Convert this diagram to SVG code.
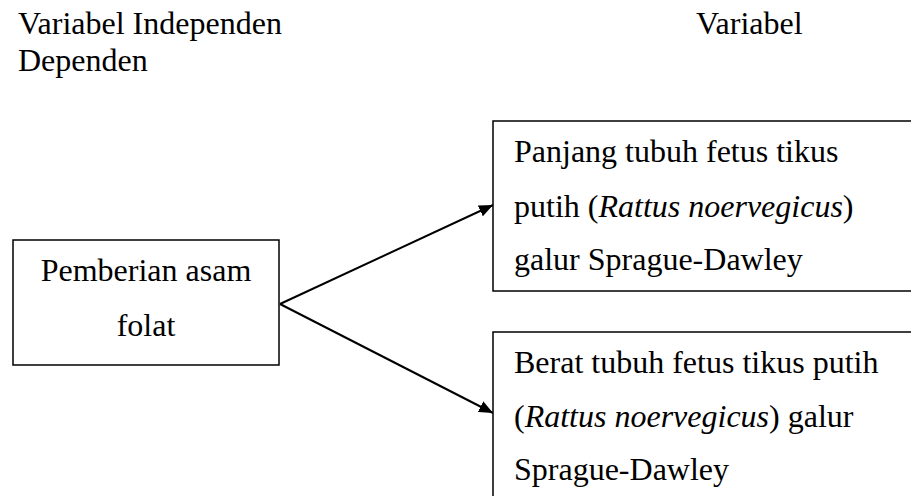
<svg xmlns="http://www.w3.org/2000/svg" width="911" height="496" viewBox="0 0 911 496">
  <style>
    .t { font-family: "Liberation Serif", "Times New Roman", serif; font-size: 32px; fill: #000; }
    .i { font-style: italic; }
    .box { fill: #fff; stroke: #000; stroke-width: 1.5; }
    .conn { stroke: #000; stroke-width: 2; fill: none; }
  </style>
  <defs>
    <marker id="arrow" markerUnits="userSpaceOnUse" markerWidth="14" markerHeight="12" refX="14" refY="6" orient="auto">
      <path d="M0,0 L14,6 L0,12 z" fill="#000"/>
    </marker>
  </defs>
  <rect width="911" height="496" fill="#fff"/>
  <g id="headings">
    <text class="t" x="18" y="34">Variabel Independen</text>
    <text class="t" x="18" y="71">Dependen</text>
    <text class="t" x="696" y="34">Variabel</text>
  </g>
  <g id="connectors">
    <line class="conn" x1="280" y1="304" x2="493" y2="205" marker-end="url(#arrow)"/>
    <line class="conn" x1="280" y1="304" x2="493" y2="413" marker-end="url(#arrow)"/>
  </g>
  <g id="node-asam-folat">
    <rect class="box" x="13" y="240" width="266" height="125"/>
    <text class="t" x="146" y="281" text-anchor="middle">Pemberian asam</text>
    <text class="t" x="146" y="336" text-anchor="middle">folat</text>
  </g>
  <g id="node-panjang">
    <rect class="box" x="493" y="121" width="425" height="170"/>
    <text class="t" x="514" y="162">Panjang tubuh fetus tikus</text>
    <text class="t" x="514" y="217">putih (<tspan class="i">Rattus noervegicus</tspan>)</text>
    <text class="t" x="514" y="270">galur Sprague-Dawley</text>
  </g>
  <g id="node-berat">
    <rect class="box" x="493" y="332" width="425" height="180"/>
    <text class="t" x="514" y="373">Berat tubuh fetus tikus putih</text>
    <text class="t" x="514" y="427">(<tspan class="i">Rattus noervegicus</tspan>) galur</text>
    <text class="t" x="514" y="480">Sprague-Dawley</text>
  </g>
</svg>
